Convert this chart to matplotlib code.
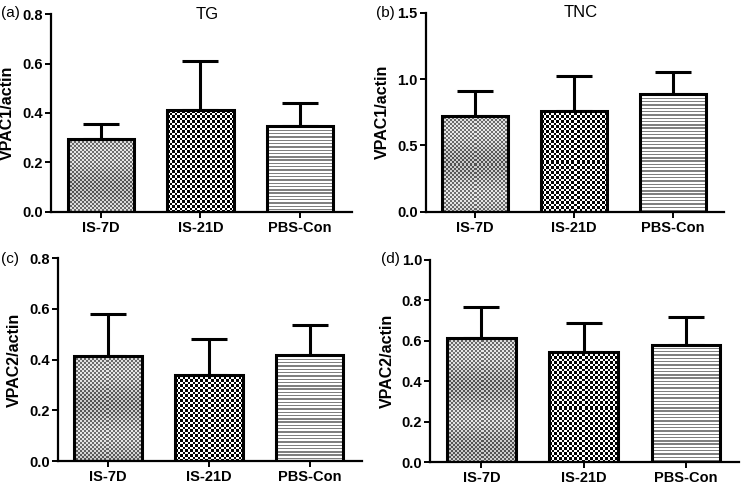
import numpy as np
import matplotlib.pyplot as plt

plt.rcParams['font.family'] = ['Liberation Sans', 'DejaVu Sans']

groups = ['IS-7D', 'IS-21D', 'PBS-Con']

tg_vpac1 = [0.294, 0.412, 0.347]
tg_vpac1_err = [0.062, 0.199, 0.095]
tnc_vpac1 = [0.724, 0.761, 0.887]
tnc_vpac1_err = [0.188, 0.264, 0.166]
tg_vpac2 = [0.413, 0.341, 0.417]
tg_vpac2_err = [0.165, 0.141, 0.120]
tnc_vpac2 = [0.611, 0.544, 0.580]
tnc_vpac2_err = [0.157, 0.143, 0.137]

patterns = ['fine', 'checker', 'stripes']


def texture(kind, w, h):
    # pattern drawn at pixel resolution
    jj, ii = np.meshgrid(np.arange(w), np.arange(h))
    if kind == 'fine':
        chk = (ii // 2 + jj // 2) % 2
        band = 0.06 * np.sin(ii / 10.0)
        return np.where(chk == 0, 0.38, 0.85) + band
    if kind == 'checker':
        c = 2.5
        chk = ((np.floor(ii / c) + np.floor(jj / c)) % 2)
        return np.where(chk == 0, 0.0, 1.0)
    return np.where((ii % 3.3) < 1.4, 0.5, 1.0)


def fill_bars(ax, bars):
    for bar, kind in zip(bars, patterns):
        x0, y0 = bar.get_x(), bar.get_y()
        x1, y1 = x0 + bar.get_width(), y0 + bar.get_height()
        p0 = ax.transData.transform((x0, y0))
        p1 = ax.transData.transform((x1, y1))
        w = int(round(p1[0] - p0[0]))
        h = int(round(p1[1] - p0[1]))
        im = ax.imshow(texture(kind, w, h), extent=(x0, x1, y0, y1), cmap='gray',
                       vmin=0, vmax=1, interpolation='nearest', aspect='auto', zorder=1)
        im.set_clip_path(bar)


def panel(fig, rect, vals, errs, ymax, ystep, ylabel, title, tag, tag_xy):
    ax = fig.add_axes(rect)
    x = np.arange(len(groups))
    ax.set_xlim(-0.5, 2.52)
    ax.set_ylim(0, ymax)
    ax.errorbar(x, vals, yerr=[np.zeros(len(vals)), errs], fmt='none', ecolor='black',
                elinewidth=2.2, capsize=13, capthick=2.2, zorder=0)
    bars = ax.bar(x, vals, width=0.67, facecolor='none', edgecolor='black',
                  linewidth=2.2, zorder=2)
    fill_bars(ax, bars)
    ax.set_xlim(-0.5, 2.52)
    ax.set_ylim(0, ymax)
    ticks = np.arange(0, ymax + ystep / 2, ystep)
    ax.set_yticks(ticks)
    ax.set_yticklabels([f'{v:.1f}' for v in ticks], fontsize=10.5, fontweight='bold')
    ax.set_xticks(x)
    ax.set_xticklabels(groups, fontsize=10.5, fontweight='bold')
    for s in ['top', 'right']:
        ax.spines[s].set_visible(False)
    for s in ['left', 'bottom']:
        ax.spines[s].set_linewidth(1.6)
    ax.tick_params(axis='both', length=4, width=1.4, pad=2)
    ax.tick_params(axis='x', pad=2.5)
    ax.set_ylabel(ylabel, fontsize=11.5, fontweight='bold', labelpad=5)
    if title:
        ax.text(0.52, 1.0, title, transform=ax.transAxes, fontsize=12,
                ha='center', va='center')
    fig.text(tag_xy[0], tag_xy[1], tag, fontsize=11, va='center', ha='left')
    return ax


fig = plt.figure(figsize=(7.42, 4.86), dpi=100)

panel(fig, [0.069, 0.564, 0.405, 0.407], tg_vpac1, tg_vpac1_err, 0.8, 0.2,
      'VPAC1/actin', 'TG', '(a)', (0.002, 0.974))
panel(fig, [0.574, 0.564, 0.402, 0.410], tnc_vpac1, tnc_vpac1_err, 1.5, 0.5,
      'VPAC1/actin', 'TNC', '(b)', (0.507, 0.974))
panel(fig, [0.078, 0.051, 0.410, 0.418], tg_vpac2, tg_vpac2_err, 0.8, 0.2,
      'VPAC2/actin', None, '(c)', (0.002, 0.468))
panel(fig, [0.580, 0.049, 0.416, 0.417], tnc_vpac2, tnc_vpac2_err, 1.0, 0.2,
      'VPAC2/actin', None, '(d)', (0.513, 0.468))

fig.savefig('out.png', dpi=100)
